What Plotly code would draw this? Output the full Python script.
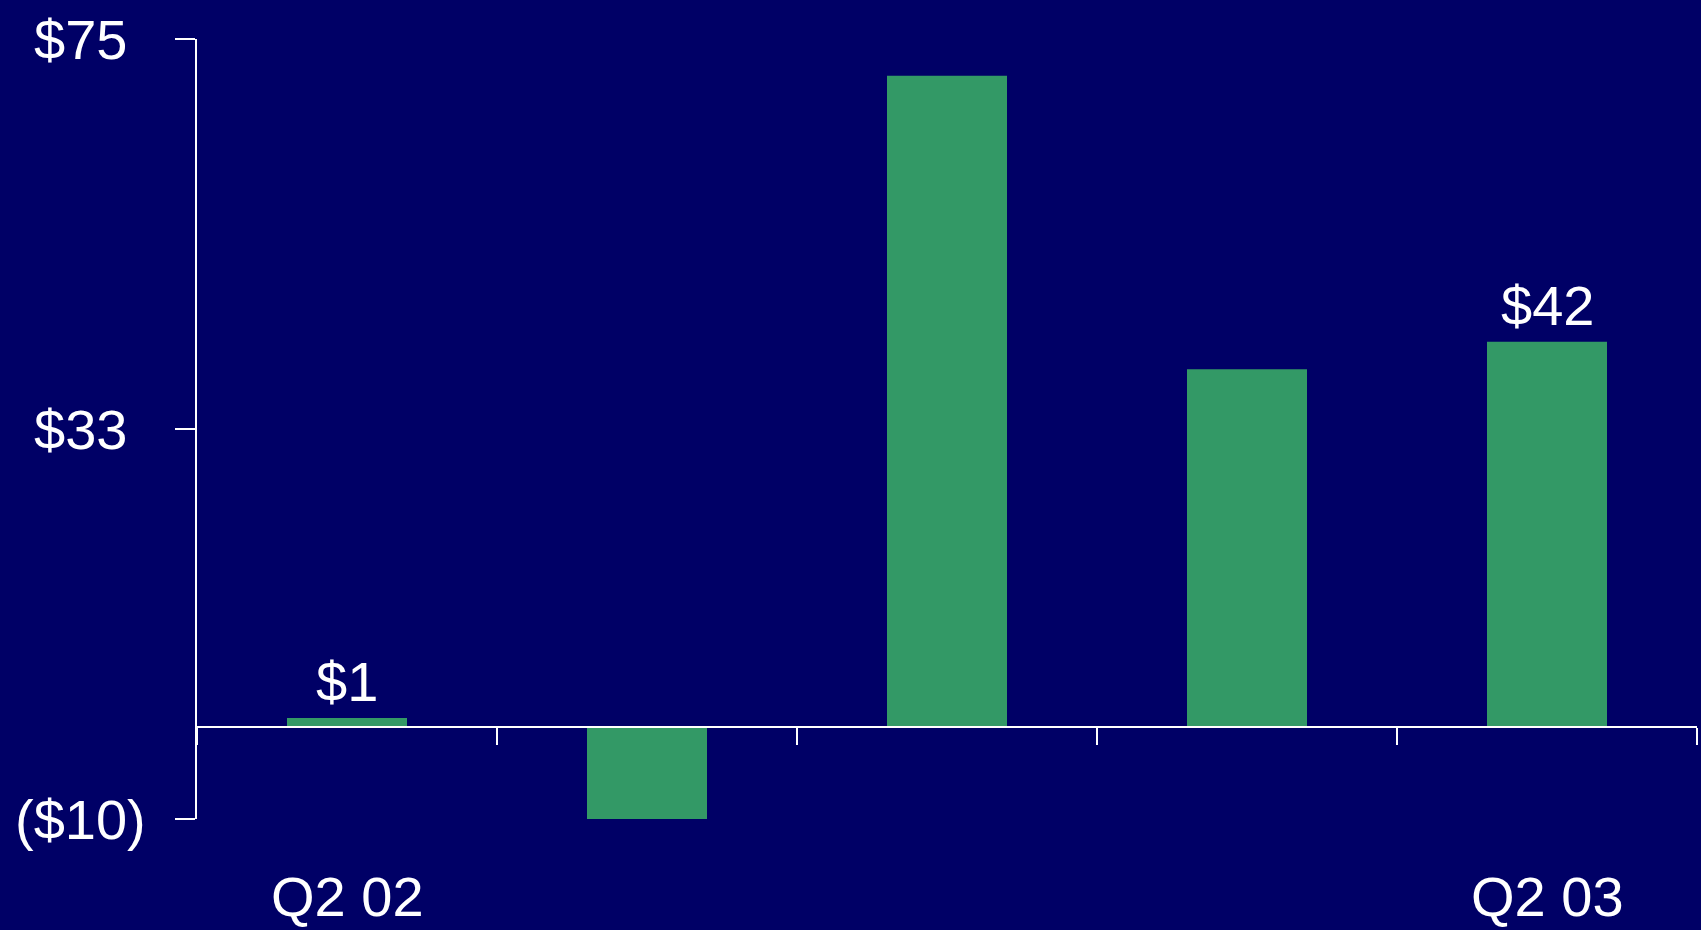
import plotly.graph_objects as go

# Quarterly values ($)
quarters = ["Q2 02", "Q3 02", "Q4 02", "Q1 03", "Q2 03"]
values = [1, -10, 71, 39, 42]

# Y-axis ticks and their printed labels
y_tickvals = [-10, 32.5, 75]
y_ticktext = ["($10)", "$33", "$75"]

# Which quarters get a category label and a value label
labelled = [0, 4]

BG = "#000066"
BAR = "#339966"
FONT = "Liberation Sans, Arial, sans-serif"
FS = 56

W, H = 1701, 930
ML, MR, MT, MB = 197, 4, 39, 111
PW = W - ML - MR
PH = H - MT - MB

fig = go.Figure()
fig.add_trace(go.Bar(
    x=quarters, y=values, width=0.4,
    marker=dict(color=BAR, line=dict(width=0)),
    hoverinfo="skip",
))

annotations = []
# y tick labels, centred in the left margin
for v, t in zip(y_tickvals, y_ticktext):
    annotations.append(dict(
        x=(80 - ML) / PW, xref="paper", y=v, yref="y",
        text=t, showarrow=False, xanchor="center", yanchor="middle",
        font=dict(family=FONT, size=FS, color="white"),
    ))
# category labels under the plot and value labels over the bars
for i in labelled:
    annotations.append(dict(
        x=quarters[i], xref="x", y=(H - MB - 896) / PH, yref="paper",
        text=quarters[i], showarrow=False, xanchor="center", yanchor="middle",
        font=dict(family=FONT, size=FS, color="white"),
    ))
    annotations.append(dict(
        x=quarters[i], xref="x", y=values[i], yref="y",
        text=f"${values[i]}", showarrow=False, xanchor="center", yanchor="bottom",
        yshift=3,
        font=dict(family=FONT, size=FS, color="white"),
    ))

fig.update_layout(
    width=W, height=H,
    margin=dict(l=ML, r=MR, t=MT, b=MB, pad=0),
    paper_bgcolor=BG, plot_bgcolor=BG,
    showlegend=False,
    annotations=annotations,
    xaxis=dict(
        type="category", range=[-0.5, 4.5],
        anchor="free", position=10 / 85,
        showline=True, linecolor="white", linewidth=2,
        ticks="outside", tickson="boundaries", ticklen=17, tickwidth=2,
        tickcolor="white", showticklabels=False, showgrid=False,
        zeroline=False, fixedrange=True,
    ),
    yaxis=dict(
        range=[-10, 75],
        tickvals=y_tickvals, ticktext=y_ticktext,
        showline=True, linecolor="white", linewidth=2,
        ticks="outside", ticklen=20, tickwidth=2, tickcolor="white",
        showticklabels=False, showgrid=False, zeroline=False,
        fixedrange=True,
    ),
)

fig.write_html("out.html", config={"displayModeBar": False})
